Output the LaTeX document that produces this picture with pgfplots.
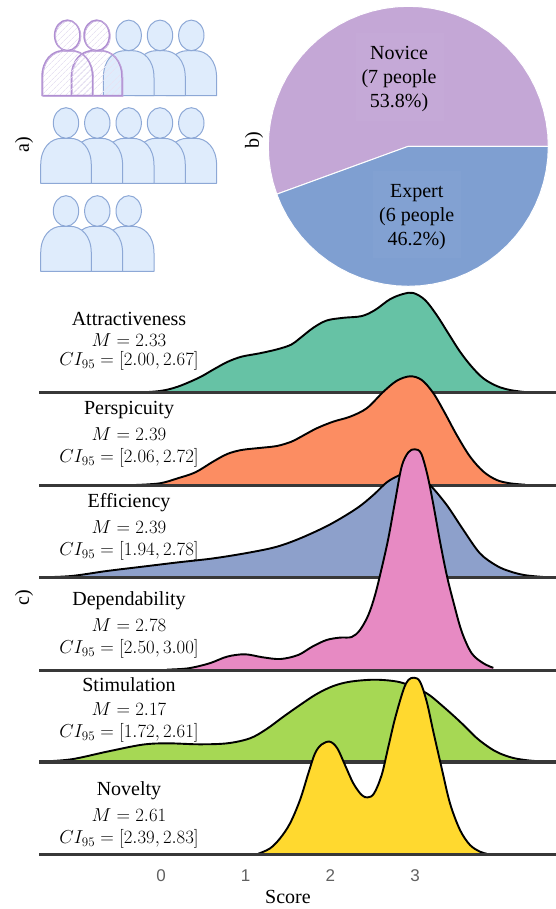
\documentclass[border=0pt]{standalone}
\usepackage[no-math]{fontspec}
\setmainfont{Liberation Serif}
\newfontfamily\tickfont{Liberation Sans}
\usepackage{pgfplots}
\usepackage{pgfplotstable}
\usepgfplotslibrary{polar}
\usetikzlibrary{patterns.meta}
\pgfplotsset{compat=1.18}

\definecolor{cteal}{HTML}{66C2A5}
\definecolor{corange}{HTML}{FC8D62}
\definecolor{cblue}{HTML}{8DA0CB}
\definecolor{cpink}{HTML}{E78AC3}
\definecolor{cgreen}{HTML}{A6D854}
\definecolor{cyellow}{HTML}{FFD92F}
\definecolor{novice}{HTML}{C4A7D6}
\definecolor{expert}{HTML}{7F9FD1}
\definecolor{persfill}{HTML}{DFECFC}
\definecolor{persline}{HTML}{8DA8D6}
\definecolor{sketch}{HTML}{B08FD2}
\definecolor{hatch}{HTML}{E8E3F3}

% score, curve height (in px of the reference above the ridge's baseline)
\pgfplotstableread{
x h
-0.305 0
-0.013 1.7
0.197 6
0.448 15
0.615 23
0.782 30.7
0.950 36
1.159 39.3
1.368 43.3
1.536 48
1.641 54.5
1.799 65
1.956 72.2
2.153 74.9
2.369 76.6
2.527 82.7
2.704 93.5
2.861 98.8
2.979 99.7
3.117 92.7
3.254 77.7
3.392 59.3
3.530 41
3.668 26
3.806 14.3
3.963 6.7
4.120 2.7
4.298 0.6
}\attract
\pgfplotstableread{
x h
-0.305 0.3
-0.013 2
0.197 7
0.406 13
0.615 23.7
0.782 31.3
0.950 35.3
1.159 37.3
1.368 39.3
1.536 43.5
1.641 48
1.838 57
2.035 63.7
2.231 68.6
2.428 77
2.625 93.5
2.783 104.5
2.940 109
3.078 105.3
3.216 92
3.353 72
3.491 50.3
3.648 28.7
3.806 13.7
3.963 5.3
4.120 2
4.298 0.6
}\perspic
\pgfplotstableread{
x h
-1.435 0.3
-1.059 1.7
-0.640 6.7
-0.222 11
0.197 15.3
0.615 19.3
1.033 25
1.368 31
1.661 40
1.996 53.3
2.310 69.3
2.507 82.7
2.664 95.3
2.802 102
2.930 105.5
3.050 101
3.176 92.7
3.373 72.7
3.570 47.7
3.766 24.3
3.962 12
4.120 6.3
4.300 2.5
4.548 0.5
}\effic
\pgfplotstableread{
x h
0.071 0.7
0.322 2
0.573 7
0.782 13.7
0.992 16
1.201 13
1.410 11.3
1.619 15.3
1.787 23.7
1.954 30.3
2.113 32.7
2.251 33.3
2.349 40.3
2.448 55.3
2.527 75.3
2.605 102
2.684 132
2.763 168.7
2.841 203.7
2.920 218
2.995 221
3.070 217
3.145 195.3
3.216 165.3
3.294 128.7
3.373 95.3
3.451 68.7
3.550 38.7
3.668 17
3.806 7
3.923 2.5
}\depend
\pgfplotstableread{
x h
-1.435 0.3
-1.059 2.7
-0.640 10.3
-0.222 17.3
0.071 18.7
0.448 17.7
0.782 18.7
1.051 23.7
1.247 33
1.445 45.3
1.641 57
1.838 68
2.035 76
2.231 80.3
2.507 82.3
2.743 81
2.900 77.7
3.137 68.7
3.333 55.3
3.530 40.3
3.727 24
3.884 14
4.002 8.5
4.150 4.2
4.297 2
4.450 0.8
4.619 0.3
}\stimul
\pgfplotstableread{
x h
1.149 1
1.287 6.3
1.405 16.3
1.523 31.3
1.641 54.7
1.739 81.3
1.818 101.3
1.897 110.3
1.995 113
2.082 106.3
2.172 89.7
2.271 71.3
2.369 59.7
2.440 57.3
2.515 61.3
2.605 79.7
2.684 108
2.763 136.3
2.861 164.7
2.920 174.7
2.987 177
3.058 173
3.137 153
3.215 123
3.314 86.3
3.412 51.3
3.530 24.7
3.648 9.7
3.766 3
3.845 1
}\novel

\pgfplotsset{
  ridge/.style={
    scale only axis, width=517pt, height=92.4pt,
    xmin=-1.440, xmax=4.663, ymin=0, ymax=92.4,
    axis line style={draw=none}, clip=false,
    xtick=\empty, ytick=\empty, anchor=south west,
  },
}

% one ridge: #1 table, #2 colour
\newcommand{\ridge}[2]{
  \addplot[fill=#2, draw=none, smooth, tension=0.55] table[x=x,y=h] {#1} \closedcycle;
  \addplot[black, line width=1.9pt, smooth, tension=0.55] table[x=x,y=h] {#1};
  \addplot[color=black!78, line width=3.2pt] coordinates {(-1.440,0) (4.663,0)};
}

% one person: #1 style, #2 head centre x, #3 bottom y
\newcommand{\person}[3]{
  \path[#1] (#2-25.3,#3) -- (#2-25.3,#3-18)
    .. controls (#2-25.3,#3-36) and (#2-15,#3-45) .. (#2-4,#3-45)
    -- (#2+4,#3-45)
    .. controls (#2+15,#3-45) and (#2+25.3,#3-36) .. (#2+25.3,#3-18)
    -- (#2+25.3,#3) -- cycle;
  \path[#1] (#2,#3-60.3) ellipse [x radius=12.7, y radius=15.3];
}

% a ridge's label: y and name, y and mean, y and interval
\newcommand{\stats}[6]{
  \node[font=\fontsize{20}{24}\selectfont] at (129,#1+1) {#2};
  \node[font=\fontsize{18}{22}\selectfont,scale=1.085] at (129,#3) {$M=#4$};
  \node[font=\fontsize{18}{22}\selectfont,scale=1.085] at (129,#5) {$CI_{95}=[#6]$};
}

\begin{document}
\begin{tikzpicture}
\path[use as bounding box] (0pt,0pt) rectangle (556pt,-909pt);

% a) the group of participants
\begin{scope}[x=1pt,y=-1pt,line join=round]
  \tikzset{blue person/.style={fill=persfill,draw=persline,line width=1pt},
           sketch person/.style={draw=sketch,line width=1.5pt,
             pattern={Lines[angle=45,distance=4pt,line width=0.7pt]},pattern color=hatch},
           sketch again/.style={draw=sketch!75,line width=0.6pt,shift={(1pt,-0.8pt)}}}
  \foreach \hx in {191.3,160,128.7}{\person{blue person}{\hx}{95.7}}
  \person{sketch person}{96.7}{95.7}
  \person{sketch again}{96.7}{95.7}
  \person{sketch person}{67.3}{95.7}
  \person{sketch again}{67.3}{95.7}
  \foreach \hx in {191.3,160,128.7,97.3,66}{\person{blue person}{\hx}{183.3}}
  \foreach \hx in {128.7,97.3,66}{\person{blue person}{\hx}{271.3}}
  \node[rotate=90,font=\fontsize{20}{24}\selectfont] at (24,145) {a)};
  \node[rotate=90,font=\fontsize{20}{24}\selectfont] at (254,140) {b)};
  \node[rotate=90,font=\fontsize{20}{24}\selectfont] at (24,598) {c)};
\end{scope}

% b) pie, as angle and radius
\begin{polaraxis}[
  at={(408.3pt,-146.3pt)}, anchor=center, scale only axis,
  width=280pt, height=280pt, hide axis, ymin=0, ymax=140, xmin=0, xmax=360, clip=false]
  \addplot[fill=novice, draw=white, line width=1pt] coordinates {
    (0,0) (0,140) (5,140) (10,140) (15,140) (20,140) (25,140) (30,140) (35,140) (40,140)
    (45,140) (50,140) (55,140) (60,140) (65,140) (70,140) (75,140) (80,140) (85,140) (90,140)
    (95,140) (100,140) (105,140) (110,140) (115,140) (120,140) (125,140) (130,140) (135,140) (140,140)
    (145,140) (150,140) (155,140) (160,140) (165,140) (170,140) (175,140) (180,140) (185,140) (190,140)
    (195,140) (200,140)} -- cycle;
  \addplot[fill=expert, draw=white, line width=1pt] coordinates {
    (0,0) (200,140) (205,140) (210,140) (215,140) (220,140) (225,140) (230,140) (235,140) (240,140)
    (245,140) (250,140) (255,140) (260,140) (265,140) (270,140) (275,140) (280,140) (285,140) (290,140)
    (295,140) (300,140) (305,140) (310,140) (315,140) (320,140) (325,140) (330,140) (335,140) (340,140)
    (345,140) (350,140) (355,140) (360,140)} -- cycle;
\end{polaraxis}

\begin{scope}[x=1pt,y=-1pt]
  \fill[white,opacity=0.03] (356,32.7) rectangle (443.5,120.7);
  \fill[white,opacity=0.025] (373.3,170.7) rectangle (460.7,258.3);
  \node[align=center,font=\fontsize{20}{24}\selectfont] at (399,79) {Novice\\(7 people\\53.8\%)};
  \node[align=center,font=\fontsize{20}{24}\selectfont] at (416.7,217.5) {Expert\\(6 people\\46.2\%)};
\end{scope}

% c) ridgeline, one axis per scale, later ones lie over earlier ones
\begin{axis}[ridge, at={(39pt,-392.7pt)}] \ridge{\attract}{cteal} \end{axis}
\begin{axis}[ridge, at={(39pt,-485.3pt)}] \ridge{\perspic}{corange} \end{axis}
\begin{axis}[ridge, at={(39pt,-577.7pt)}] \ridge{\effic}{cblue} \end{axis}
\begin{axis}[ridge, at={(39pt,-670.3pt)}] \ridge{\depend}{cpink} \end{axis}
\begin{axis}[ridge, at={(39pt,-762pt)}] \ridge{\stimul}{cgreen} \end{axis}
\begin{axis}[ridge, at={(39pt,-854.7pt)},
  xtick={0,1,2,3}, xticklabels={0,1,2,3}, major tick length=0pt,
  xticklabel style={font=\tickfont\fontsize{17}{20}\selectfont, text=black!62, anchor=center, yshift=-20.5pt},
  xlabel={Score},
  x label style={at={(axis description cs:0.4816,0)}, anchor=center, yshift=-42.5pt, font=\fontsize{20}{24}\selectfont}]
  \ridge{\novel}{cyellow}
\end{axis}

\begin{scope}[x=1pt,y=-1pt]
  \stats{318.3}{Attractiveness}{340}{2.33}{361}{2.00,2.67}
  \stats{409}{Perspicuity}{434.3}{2.39}{458.3}{2.06,2.72}
  \stats{501.7}{Efficiency}{527.3}{2.39}{551}{1.94,2.78}
  \stats{600}{Dependability}{625}{2.78}{649}{2.50,3.00}
  \stats{683.3}{Stimulation}{709.3}{2.17}{733.3}{1.72,2.61}
  \stats{789.3}{Novelty}{815}{2.61}{839}{2.39,2.83}
\end{scope}
\end{tikzpicture}
\end{document}
